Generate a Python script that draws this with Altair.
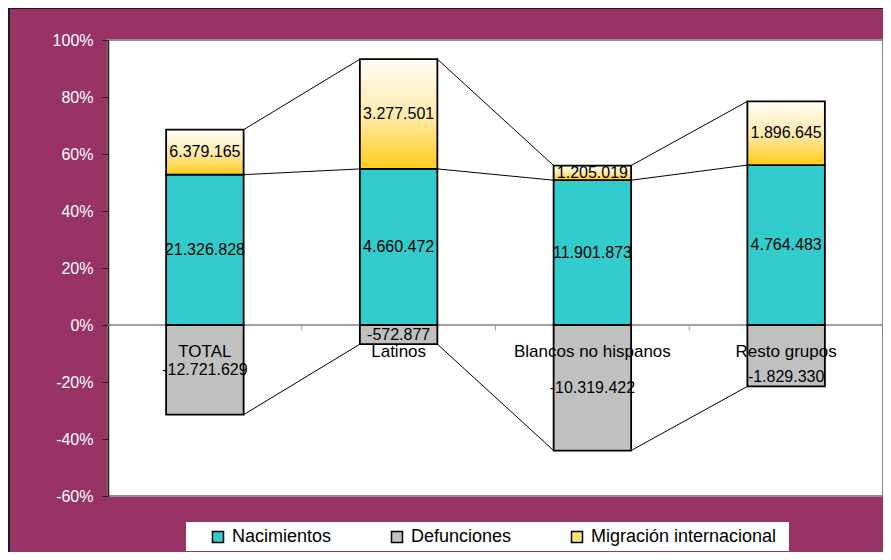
import altair as alt
import pandas as pd

# ---- data ----
categorias = ["TOTAL", "Latinos", "Blancos no hispanos", "Resto grupos"]
nacimientos = [21326828, 4660472, 11901873, 4764483]
defunciones = [-12721629, -572877, -10319422, -1829330]
migracion = [6379165, 3277501, 1205019, 1896645]
series = ["Nacimientos", "Defunciones", "Migración internacional"]
ticks_y = [-0.6, -0.4, -0.2, 0.0, 0.2, 0.4, 0.6, 0.8, 1.0]
limites = [1, 2, 3, 4]

FONT = "Liberation Sans"


def fmt(v):
    s = f"{abs(v):,}".replace(",", ".")
    return ("-" if v < 0 else "") + s


rows = []
lvl_nac, lvl_mig, lvl_def = [], [], []
for i, c in enumerate(categorias):
    n, d, m = nacimientos[i], defunciones[i], migracion[i]
    tot = n + m + abs(d)
    pn, pm, pdf = n / tot, m / tot, d / tot
    rows.append(dict(cat=c, idx=i, serie=series[0], v0=0.0, v1=pn, label=fmt(n)))
    rows.append(dict(cat=c, idx=i, serie=series[1], v0=0.0, v1=pdf, label=fmt(d)))
    rows.append(dict(cat=c, idx=i, serie=series[2], v0=pn, v1=pn + pm, label=fmt(m)))
    lvl_nac.append(pn)
    lvl_mig.append(pn + pm)
    lvl_def.append(pdf)
bars = pd.DataFrame(rows)

con_rows = []
for lv in (lvl_nac, lvl_mig, lvl_def):
    for k in range(len(categorias) - 1):
        con_rows.append(dict(a=k, b=k + 1, ya=lv[k], yb=lv[k + 1]))
conn = pd.DataFrame(con_rows)
cats = pd.DataFrame({"cat": categorias, "idx": list(range(len(categorias)))})
lims = pd.DataFrame({"x": limites})

xs = alt.Scale(domain=[0, 4], nice=False, zero=False)
ys = alt.Scale(domain=[-0.6, 1.0], nice=False)
y_axis = alt.Axis(values=ticks_y, labelExpr="round(datum.value*100) + '%'", title=None,
                  grid=False, domainColor="#1a1a1a", domainWidth=1.5, tickColor="#1a1a1a",
                  tickSize=6, labelPadding=9, labelColor="white", labelFont=FONT,
                  labelFontSize=16)

# legend white box and outer border (decoration)
legend_bg = alt.Chart(alt.Data(values=[{"k": 1}])).mark_rect(fill="white").encode(
    x=alt.value(78), x2=alt.value(681), y=alt.value(482), y2=alt.value(511))
outer = alt.Chart(alt.Data(values=[{"k": 1}])).mark_rect(
    fill=None, stroke="#1a1a1a", strokeWidth=2).encode(
    x=alt.value(-99), x2=alt.value(900), y=alt.value(-32), y2=alt.value(700))

zero = alt.Chart(alt.Data(values=[{"k": 1}])).mark_rule(color="#808080", strokeWidth=1.5).encode(
    x=alt.datum(0, scale=xs, axis=None), x2=alt.datum(4),
    y=alt.datum(0, scale=ys, axis=y_axis))

tk = alt.Chart(lims).mark_tick(orient="vertical", size=5, thickness=1, yOffset=3,
                               color="#808080").encode(
    x=alt.X("x:Q", scale=xs, axis=None),
    y=alt.datum(0, scale=ys, axis=y_axis))

lines = alt.Chart(conn).mark_rule(color="black", strokeWidth=1).transform_calculate(
    xa="datum.a + 0.7", xb="datum.b + 0.3").encode(
    x=alt.X("xa:Q", scale=xs, axis=None), x2="xb:Q",
    y=alt.Y("ya:Q", scale=ys, axis=y_axis), y2="yb:Q")

base = alt.Chart(bars).transform_calculate(
    xa="datum.idx + 0.3", xb="datum.idx + 0.7", xc="datum.idx + 0.5",
    ym="(datum.v0 + datum.v1) / 2")

legend = alt.Legend(title=None, orient="none", legendX=101, legendY=488, direction="horizontal",
                    symbolType="square", symbolSize=121, symbolStrokeColor="black",
                    symbolStrokeWidth=1.5, labelFont=FONT, labelFontSize=18, labelColor="black",
                    labelOffset=5, columnPadding=56, padding=0, labelLimit=400)

bars_nd = base.transform_filter(f"datum.serie != '{series[2]}'").mark_rect(
    stroke="black", strokeWidth=1.8).encode(
    x=alt.X("xa:Q", scale=xs, axis=None), x2="xb:Q",
    y=alt.Y("v0:Q", scale=ys, axis=y_axis), y2="v1:Q",
    fill=alt.Fill("serie:N", scale=alt.Scale(domain=series,
                                             range=["#33CCCC", "#C0C0C0", "#FFE277"]),
                  legend=legend))

grad = alt.LinearGradient(gradient="linear",
                          stops=[alt.GradientStop(color="#FFFDF6", offset=0),
                                 alt.GradientStop(color="#FFEBB0", offset=0.5),
                                 alt.GradientStop(color="#FFCC18", offset=1)],
                          x1=0, x2=0, y1=0, y2=1)
bars_m = base.transform_filter(f"datum.serie == '{series[2]}'").mark_rect(
    stroke="black", strokeWidth=1.8, fill=grad).encode(
    x=alt.X("xa:Q", scale=xs, axis=None), x2="xb:Q",
    y=alt.Y("v0:Q", scale=ys, axis=y_axis), y2="v1:Q")

special = f"datum.serie == '{series[1]}' && datum.cat == '{categorias[3]}'"
labels = base.transform_filter(f"!({special})").mark_text(
    font=FONT, fontSize=16, color="black", baseline="middle").encode(
    x=alt.X("xc:Q", scale=xs, axis=None),
    y=alt.Y("ym:Q", scale=ys, axis=y_axis), text="label:N")
labels2 = base.transform_filter(special).mark_text(
    font=FONT, fontSize=16, color="black", baseline="middle", dy=21).encode(
    x=alt.X("xc:Q", scale=xs, axis=None),
    y=alt.Y("ym:Q", scale=ys, axis=y_axis), text="label:N")

cat_labels = alt.Chart(cats).mark_text(font=FONT, fontSize=17, color="black",
                                       baseline="middle", dy=26.5).transform_calculate(
    xc="datum.idx + 0.5").encode(
    x=alt.X("xc:Q", scale=xs, axis=None),
    y=alt.datum(0, scale=ys, axis=y_axis), text="cat:N")

chart = alt.layer(outer, legend_bg, zero, tk, lines, bars_nd, bars_m, labels, labels2,
                  cat_labels).properties(
    width=775, height=456, autosize="none",
    padding={"left": 100, "top": 32, "right": 0, "bottom": 56},
    background="#993366",
).configure_view(fill="white", stroke="#8c8c8c", strokeWidth=2)

chart.save("out.html", embed_options={"renderer": "svg", "actions": False})
